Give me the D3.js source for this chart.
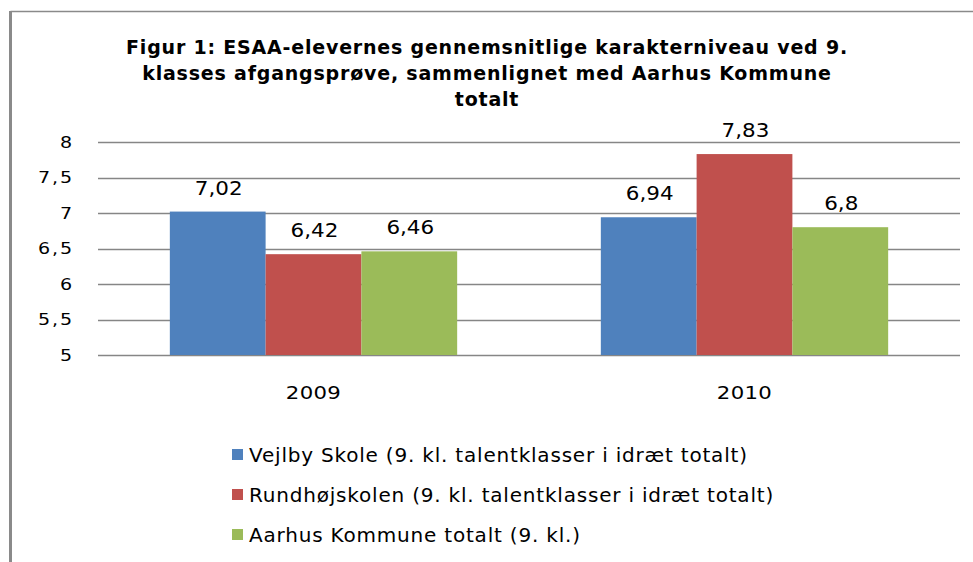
<!DOCTYPE html>
<html>
<head>
<meta charset="utf-8">
<script src="https://cdn.jsdelivr.net/npm/d3@7"></script>
<style>
  body { margin: 0; background: #fff; }
  svg { display: block; }
</style>
</head>
<body>
<svg id="chart" width="973" height="562"></svg>
<script>
// data
const years = ["2009", "2010"];
const seriesNames = [
  "Vejlby Skole (9. kl. talentklasser i idræt totalt)",
  "Rundhøjskolen (9. kl. talentklasser i idræt totalt)",
  "Aarhus Kommune totalt (9. kl.)"
];
const vejlby = [7.02, 6.94];
const rundhoj = [6.42, 7.83];
const aarhus = [6.46, 6.8];
const colors = ["#4F81BD", "#C0504D", "#9BBB59"];
const yTicks = [5, 5.5, 6, 6.5, 7, 7.5, 8];
const titleLines = [
  "Figur 1: ESAA-elevernes gennemsnitlige karakterniveau ved 9.",
  "klasses afgangsprøve, sammenlignet med Aarhus Kommune",
  "totalt"
];

const allValues = [vejlby, rundhoj, aarhus];
const fmt = v => String(v).replace(".", ",");

// the original figure is a bit wider than tall, so glyphs get a horizontal stretch
function stretch(sel, sx) {
  sel.each(function () {
    const t = d3.select(this);
    const x = +t.attr("x") || 0;
    const y = +t.attr("y") || 0;
    t.attr("x", null).attr("y", null)
      .attr("transform", `translate(${x},${y}) scale(${sx},1)`);
  });
}

const svg = d3.select("#chart");

// frame (only top and left edge visible)
svg.append("line").attr("x1", 10.5).attr("x2", 973).attr("y1", 11.5).attr("y2", 11.5)
  .attr("stroke", "#8a8a8a").attr("stroke-width", 1.5);
svg.append("line").attr("x1", 10.5).attr("x2", 10.5).attr("y1", 11).attr("y2", 562)
  .attr("stroke", "#8a8a8a").attr("stroke-width", 3);

// title
svg.append("g").selectAll("text").data(titleLines).join("text")
  .attr("x", 487).attr("y", (d, i) => 54 + i * 26)
  .attr("text-anchor", "middle")
  .attr("font-family", "DejaVu Sans")
  .attr("font-weight", "bold")
  .attr("font-size", 19)
  .attr("letter-spacing", 0.8)
  .attr("fill", "#000")
  .text(d => d);

const x0 = d3.scaleBand().domain(years).range([98, 960]).padding(0);
const x1 = d3.scaleBand().domain(d3.range(seriesNames.length))
  .range([0, x0.bandwidth()]).paddingInner(0).paddingOuter(0.75);
const y = d3.scaleLinear().domain([5, 8]).range([355, 142]);

// gridlines
svg.append("g").selectAll("line").data(yTicks).join("line")
  .attr("x1", 98).attr("x2", 960)
  .attr("y1", d => Math.round(y(d)) + 0.5).attr("y2", d => Math.round(y(d)) + 0.5)
  .attr("stroke", "#868686").attr("stroke-width", 1.5);

// y axis labels
const yAxis = svg.append("g").attr("transform", "translate(88,0)")
  .call(d3.axisLeft(y).tickValues(yTicks).tickSize(0).tickPadding(14).tickFormat(fmt));
yAxis.select(".domain").remove();
yAxis.selectAll("text")
  .attr("dy", "0.36em")
  .attr("font-family", "DejaVu Sans").attr("font-size", 15)
  .attr("letter-spacing", 1.5).attr("fill", "#000")
  .call(stretch, 1.27);

// bars
const groups = svg.append("g").selectAll("g").data(years).join("g")
  .attr("transform", d => `translate(${x0(d)},0)`);

groups.selectAll("rect")
  .data((d, i) => allValues.map((s, k) => ({ k, v: s[i] })))
  .join("rect")
  .attr("x", d => x1(d.k))
  .attr("width", x1.bandwidth())
  .attr("y", d => y(d.v))
  .attr("height", d => y(5) - y(d.v))
  .attr("fill", d => colors[d.k]);

groups.selectAll("text")
  .data((d, i) => allValues.map((s, k) => ({ k, v: s[i] })))
  .join("text")
  .attr("x", d => x1(d.k) + x1.bandwidth() / 2 + 1)
  .attr("y", d => y(d.v) - 17)
  .attr("text-anchor", "middle")
  .attr("font-family", "DejaVu Sans").attr("font-size", 19)
  .attr("fill", "#000")
  .text(d => fmt(d.v))
  .call(stretch, 1.13);

// category labels
const xAxis = svg.append("g").attr("transform", "translate(0,355)")
  .call(d3.axisBottom(x0).tickSize(0).tickPadding(31));
xAxis.select(".domain").remove();
xAxis.selectAll("text")
  .attr("font-family", "DejaVu Sans").attr("font-size", 18)
  .attr("letter-spacing", 0.3).attr("fill", "#000")
  .call(stretch, 1.18);

// legend
const legend = svg.append("g").selectAll("g").data(seriesNames).join("g")
  .attr("transform", (d, i) => `translate(232,${455 + i * 40})`);
legend.append("rect").attr("x", 0).attr("y", -6).attr("width", 11).attr("height", 11)
  .attr("fill", (d, i) => colors[i]);
legend.append("text").attr("x", 17).attr("y", 7)
  .attr("font-family", "DejaVu Sans").attr("font-size", 20)
  .attr("letter-spacing", 0.8)
  .attr("fill", "#000")
  .text(d => d);
</script>
</body>
</html>
